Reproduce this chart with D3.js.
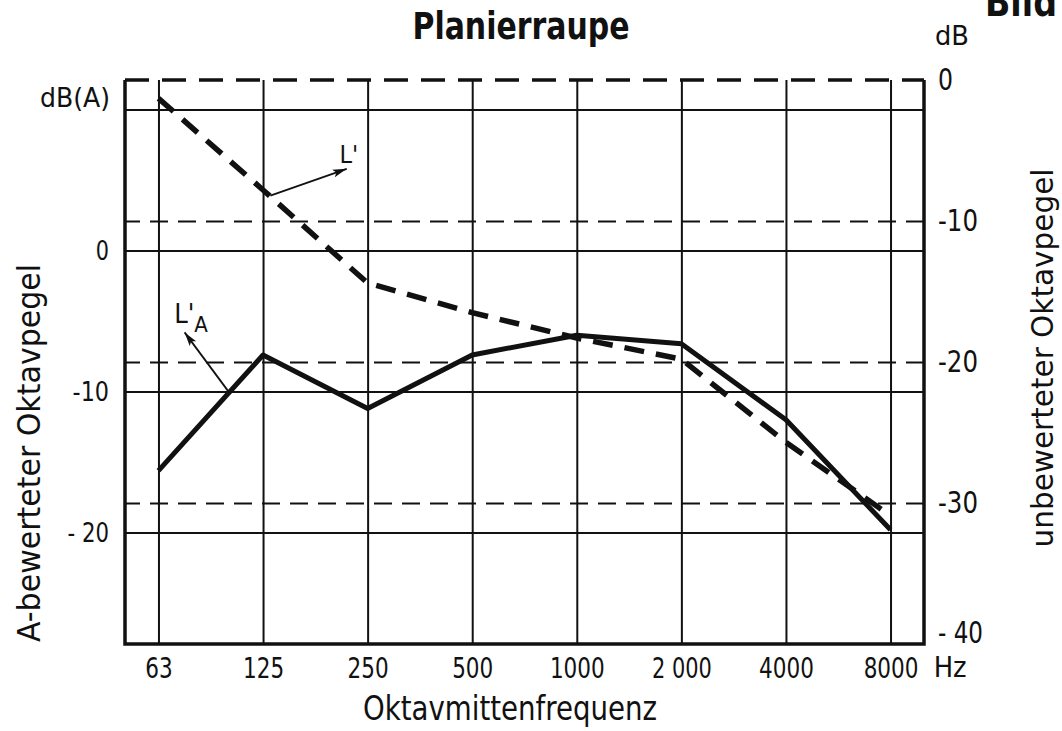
<!DOCTYPE html>
<html>
<head>
<meta charset="utf-8">
<script src="https://cdn.jsdelivr.net/npm/d3@7"></script>
<style>
  body { margin: 0; background: #fff; }
  svg text { font-family: "Liberation Sans Narrow", "DejaVu Sans Condensed", "DejaVu Sans", sans-serif; fill: #111; }
</style>
</head>
<body>
<div id="chart"></div>
<script>
// octave band centre frequencies (Hz)
let freqs = ["63", "125", "250", "500", "1000", "2000", "4000", "8000"];
let freqLabels = ["63", "125", "250", "500", "1000", "2 000", "4000", "8000"];

// L'  : unweighted octave level, right axis (dB)
let levelUnweighted = [-1.3, -7.8, -14.4, -16.5, -18.3, -19.8, -25.7, -30.9];
// L'A : A-weighted octave level, left axis (dB(A))
let levelAWeighted = [-15.6, -7.4, -11.2, -7.4, -6.0, -6.6, -12.0, -19.8];

let leftGrid = [10, 0, -10, -20];
let leftTicks = [0, -10, -20];
let leftTickLabels = ["0", "-10", "- 20"];
let rightGrid = [-10, -20, -30];
let rightTicks = [0, -10, -20, -30, -40];
let rightTickLabels = ["0", "-10", "-20", "-30", "- 40"];

const W = 1062, H = 731;
const margin = {top: 80, left: 125};
const width = 799, height = 564;
const ink = "#111";

// the lettering on the drawing is narrow, squeeze the labels to that width
function narrowWidth(s, digit) {
    return s.split("").reduce((w, c) => w + (c === " " ? 5 : c === "-" ? 10 : digit), 0);
}

let svg = d3.select("#chart").append("svg")
    .attr("width", W)
    .attr("height", H);

svg.append("rect").attr("width", W).attr("height", H).attr("fill", "#fff");

let defs = svg.append("defs");
defs.append("marker")
    .attr("id", "arrow")
    .attr("markerUnits", "userSpaceOnUse")
    .attr("markerWidth", 16).attr("markerHeight", 10)
    .attr("refX", 14).attr("refY", 5)
    .attr("orient", "auto")
    .append("path")
    .attr("d", "M0,1 L14,5 L0,9 L3,5 z")
    .attr("fill", ink);

let g = svg.append("g")
    .attr("transform", "translate(" + margin.left + "," + margin.top + ")");

let x = d3.scalePoint().domain(freqs).range([0, width]).padding(0.32);
let yL = d3.scaleLinear().domain([-27.9, 12.1]).range([height, 0]);
let yR = d3.scaleLinear().domain([-40, 0]).range([height, 0]);

// x position at a fractional octave index
let xi = i => x(freqs[0]) + i * x.step();

// vertical grid
g.append("g")
    .attr("transform", "translate(0," + height + ")")
    .call(d3.axisBottom(x).tickSize(-height).tickFormat(""))
    .call(s => s.select(".domain").remove())
    .selectAll("line")
    .attr("stroke", ink)
    .attr("stroke-width", 2);

// solid horizontal grid (left scale)
g.append("g")
    .call(d3.axisLeft(yL).tickValues(leftGrid).tickSize(-width).tickFormat(""))
    .call(s => s.select(".domain").remove())
    .selectAll("line")
    .attr("stroke", ink)
    .attr("stroke-width", 2);

// dashed horizontal grid (right scale)
g.append("g")
    .attr("transform", "translate(" + width + ",0)")
    .call(d3.axisRight(yR).tickValues(rightGrid).tickSize(-width).tickFormat(""))
    .call(s => s.select(".domain").remove())
    .selectAll("line")
    .attr("stroke", ink)
    .attr("stroke-width", 2)
    .attr("stroke-dasharray", "18,10");

// top border = right 0 dB, dashed
g.append("line")
    .attr("x1", 0).attr("x2", width)
    .attr("y1", yR(0)).attr("y2", yR(0))
    .attr("stroke", ink)
    .attr("stroke-width", 3.5)
    .attr("stroke-dasharray", "24,13");

// frame left / bottom / right
g.append("path")
    .attr("d", "M0," + yR(0) + "V" + height + "H" + width + "V" + yR(0))
    .attr("fill", "none")
    .attr("stroke", ink)
    .attr("stroke-width", 3.5);

// curves
let lineR = d3.line().x((d, i) => x(freqs[i])).y(d => yR(d));
let lineL = d3.line().x((d, i) => x(freqs[i])).y(d => yL(d));

g.append("path")
    .datum(levelUnweighted)
    .attr("d", lineR)
    .attr("fill", "none")
    .attr("stroke", ink)
    .attr("stroke-width", 5.5)
    .attr("stroke-dasharray", "20,12");

g.append("path")
    .datum(levelAWeighted)
    .attr("d", lineL)
    .attr("fill", "none")
    .attr("stroke", ink)
    .attr("stroke-width", 5)
    .attr("stroke-linejoin", "round");

// annotations
g.append("line")
    .attr("x1", xi(1.07)).attr("y1", yR(-8.2))
    .attr("x2", xi(1.8)).attr("y2", yR(-6.3))
    .attr("stroke", ink).attr("stroke-width", 1.8)
    .attr("marker-end", "url(#arrow)");
g.append("text")
    .attr("x", xi(1.73)).attr("y", yR(-5.9))
    .attr("font-size", 25)
    .text("L'");

g.append("line")
    .attr("x1", xi(0.67)).attr("y1", yL(-10))
    .attr("x2", xi(0.25)).attr("y2", yL(-5.8))
    .attr("stroke", ink).attr("stroke-width", 1.8)
    .attr("marker-end", "url(#arrow)");
let la = g.append("text")
    .attr("x", xi(0.15)).attr("y", yL(-5.13))
    .attr("font-size", 27);
la.append("tspan").text("L'");
la.append("tspan").attr("dy", 9).attr("font-size", 22).text("A");

// tick labels
g.append("g")
    .attr("transform", "translate(0," + height + ")")
    .call(d3.axisBottom(x).tickSize(0).tickPadding(13).tickFormat((d, i) => freqLabels[i]))
    .call(s => s.select(".domain").remove())
    .selectAll("text")
    .attr("font-size", 29)
    .attr("fill", ink)
    .attr("lengthAdjust", "spacingAndGlyphs")
    .attr("textLength", (d, i) => narrowWidth(freqLabels[i], 13.7));

g.append("text")
    .attr("x", xi(7.57)).attr("y", height + 33)
    .attr("text-anchor", "middle")
    .attr("font-size", 29)
    .attr("textLength", 33)
    .attr("lengthAdjust", "spacingAndGlyphs")
    .text("Hz");

g.append("g")
    .call(d3.axisLeft(yL).tickValues(leftTicks).tickSize(0).tickPadding(16)
        .tickFormat((d, i) => leftTickLabels[i]))
    .call(s => s.select(".domain").remove())
    .selectAll("text")
    .attr("font-size", 27)
    .attr("fill", ink)
    .attr("lengthAdjust", "spacingAndGlyphs")
    .attr("textLength", (d, i) => narrowWidth(leftTickLabels[i], 13.2));

g.append("g")
    .attr("transform", "translate(" + width + ",0)")
    .call(d3.axisRight(yR).tickValues(rightTicks).tickSize(0).tickPadding(14)
        .tickFormat((d, i) => rightTickLabels[i]))
    .call(s => s.select(".domain").remove())
    .selectAll("text")
    .attr("font-size", 30)
    .attr("fill", ink)
    .attr("dy", d => d === -40 ? "-0.05em" : "0.32em")
    .attr("lengthAdjust", "spacingAndGlyphs")
    .attr("textLength", (d, i) => narrowWidth(rightTickLabels[i], 15));

// titles and units
svg.append("text")
    .attr("x", 521).attr("y", 39)
    .attr("text-anchor", "middle")
    .attr("font-size", 37)
    .attr("font-weight", "bold")
    .attr("textLength", 217)
    .attr("lengthAdjust", "spacingAndGlyphs")
    .text("Planierraupe");

svg.append("text")
    .attr("x", 985).attr("y", 16)
    .attr("font-size", 40)
    .attr("font-weight", "bold")
    .attr("textLength", 72)
    .attr("lengthAdjust", "spacingAndGlyphs")
    .text("Bild");

svg.append("text")
    .attr("x", 110).attr("y", 107)
    .attr("text-anchor", "end")
    .attr("font-size", 26)
    .attr("textLength", 70)
    .attr("lengthAdjust", "spacingAndGlyphs")
    .text("dB(A)");

svg.append("text")
    .attr("x", 935).attr("y", 45)
    .attr("font-size", 27)
    .attr("textLength", 34)
    .attr("lengthAdjust", "spacingAndGlyphs")
    .text("dB");

svg.append("text")
    .attr("transform", "translate(40,453) rotate(-90)")
    .attr("text-anchor", "middle")
    .attr("font-size", 32)
    .attr("textLength", 378)
    .attr("lengthAdjust", "spacingAndGlyphs")
    .text("A-bewerteter Oktavpegel");

svg.append("text")
    .attr("transform", "translate(1053,358) rotate(-90)")
    .attr("text-anchor", "middle")
    .attr("font-size", 31)
    .attr("textLength", 379)
    .attr("lengthAdjust", "spacingAndGlyphs")
    .text("unbewerteter Oktavpegel");

svg.append("text")
    .attr("x", 510).attr("y", 720)
    .attr("text-anchor", "middle")
    .attr("font-size", 33)
    .attr("textLength", 294)
    .attr("lengthAdjust", "spacingAndGlyphs")
    .text("Oktavmittenfrequenz");
</script>
</body>
</html>
